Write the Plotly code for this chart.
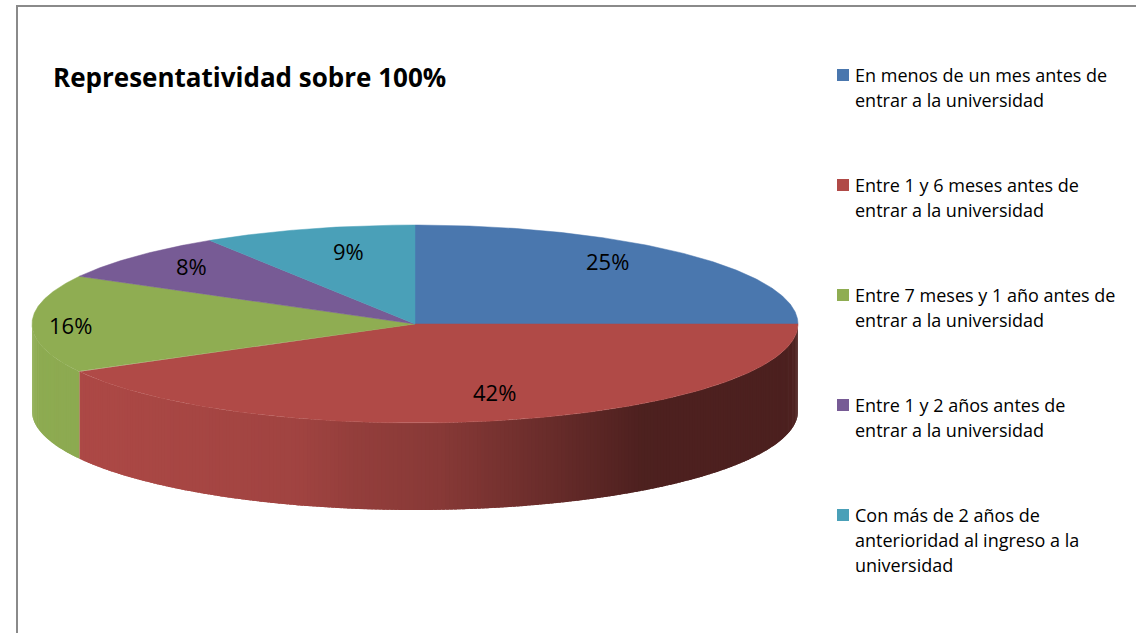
import numpy as np
import plotly.graph_objects as go

# ---- data -------------------------------------------------------------
TITLE = "Representatividad sobre 100%"
CATEGORIES = [
    "En menos de un mes antes de<br>entrar a la universidad",
    "Entre 1 y 6 meses antes de<br>entrar a la universidad",
    "Entre 7 meses y 1 año antes de<br>entrar a la universidad",
    "Entre 1 y 2 años antes de<br>entrar a la universidad",
    "Con más de 2 años de<br>anterioridad al ingreso a la<br>universidad",
]
PERCENTS = [25, 42, 16, 8, 9]
COLORS = ["#4a77ae", "#b04a47", "#8fad52", "#775b95", "#4aa0b8"]

# ---- geometry / style ---------------------------------------------------
W, H = 1136, 633
CX, CY, RX, RY, DEPTH = 415, 324, 383, 99, 87
FONT = "Open Sans, sans-serif"
LABEL_RADIUS = [0.71, 0.83, 0.90, 0.80, 0.62]   # radial placement of % labels
LABEL_LIFT = [13, 12, -1, 4, 14]                  # vertical lift of each label
# brightness of the outer wall across the width of the pie
SHADE_X = [32, 82, 300, 353, 440, 540, 600, 640, 798]
SHADE_F = [0.99, 0.98, 0.91, 0.84, 0.77, 0.61, 0.51, 0.44, 0.43]


def hex_rgb(c):
    c = c.lstrip("#")
    return np.array([int(c[i:i + 2], 16) for i in (0, 2, 4)], dtype=float)


def rgb_str(v):
    v = np.clip(np.round(v), 0, 255).astype(int)
    return f"rgb({v[0]},{v[1]},{v[2]})"


def ellipse(theta_deg, dy=0.0):
    """Point on the rim, angle measured clockwise from 12 o'clock."""
    t = np.radians(theta_deg)
    return CX + RX * np.sin(t), CY - RY * np.cos(t) + dy


fig = go.Figure()

bounds = np.concatenate([[0], np.cumsum(PERCENTS)]) / sum(PERCENTS) * 360.0

# outer wall (only the front half, 90..270 degrees, is visible);
# thin overlapping strips give a smooth left-to-right shading
STEP = 0.6
for i, base in enumerate(COLORS):
    a0, a1 = max(bounds[i], 90.0), min(bounds[i + 1], 270.0)
    if a1 <= a0:
        continue
    n = max(2, int(np.ceil((a1 - a0) / STEP)))
    edges = np.linspace(a0, a1, n + 1)
    rgb = hex_rgb(base)
    for s0, s1 in zip(edges[:-1], edges[1:]):
        e1 = min(s1 + (s1 - s0) * 0.8, a1)
        th = np.linspace(s0, e1, 4)
        xt, yt = ellipse(th)
        xb, yb = ellipse(th[::-1], DEPTH)
        xm = ellipse((s0 + s1) / 2)[0]
        col = rgb_str(rgb * np.interp(xm, SHADE_X, SHADE_F))
        fig.add_trace(go.Scatter(
            x=np.concatenate([xt, xb, xt[:1]]),
            y=np.concatenate([yt, yb, yt[:1]]),
            mode="lines", fill="toself", fillcolor=col,
            line=dict(width=0), hoverinfo="skip", showlegend=False,
        ))

# top faces
for i, base in enumerate(COLORS):
    th = np.linspace(bounds[i], bounds[i + 1], 200)
    xa, ya = ellipse(th)
    fig.add_trace(go.Scatter(
        x=np.concatenate([[CX], xa, [CX]]),
        y=np.concatenate([[CY], ya, [CY]]),
        mode="lines", fill="toself", fillcolor=base,
        line=dict(color=base, width=0.5), hoverinfo="skip", showlegend=False,
    ))

# percentage labels
for i, p in enumerate(PERCENTS):
    mid = (bounds[i] + bounds[i + 1]) / 2
    t = np.radians(mid)
    lx = CX + LABEL_RADIUS[i] * RX * np.sin(t)
    ly = CY - LABEL_RADIUS[i] * RY * np.cos(t) - LABEL_LIFT[i]
    fig.add_annotation(x=lx, y=ly, text=f"{p}%", showarrow=False,
                       xanchor="center", yanchor="middle",
                       font=dict(family=FONT, size=22, color="#000000"))

# legend
LEG_X, LEG_Y0, LEG_STEP, LINE_H, SQ = 837, 75, 110, 25, 12
for i, (name, col) in enumerate(zip(CATEGORIES, COLORS)):
    y0 = LEG_Y0 + i * LEG_STEP
    fig.add_shape(type="rect", x0=LEG_X, x1=LEG_X + SQ, y0=y0 - SQ / 2,
                  y1=y0 + SQ / 2, fillcolor=col, line=dict(width=0))
    for j, line in enumerate(name.split("<br>")):
        fig.add_annotation(x=LEG_X + SQ + 4, y=y0 + j * LINE_H, text=line,
                           showarrow=False, xanchor="left", yanchor="middle",
                           font=dict(family=FONT, size=18, color="#000000"))

# title
fig.add_annotation(x=51, y=77, text=f"<b>{TITLE}</b>", showarrow=False,
                   xanchor="left", yanchor="middle",
                   font=dict(family=FONT, size=26, color="#000000"))

# chart border
fig.add_shape(type="rect", x0=17, y0=6, x1=W + 10, y1=H + 10,
              line=dict(color="#8a8a8a", width=2), fillcolor="rgba(0,0,0,0)")

fig.update_xaxes(range=[0, W], visible=False, fixedrange=True)
fig.update_yaxes(range=[H, 0], visible=False, fixedrange=True)
fig.update_layout(width=W, height=H, autosize=False,
                  margin=dict(l=0, r=0, t=0, b=0),
                  paper_bgcolor="white", plot_bgcolor="white",
                  showlegend=False)

fig.write_html("out.html")
